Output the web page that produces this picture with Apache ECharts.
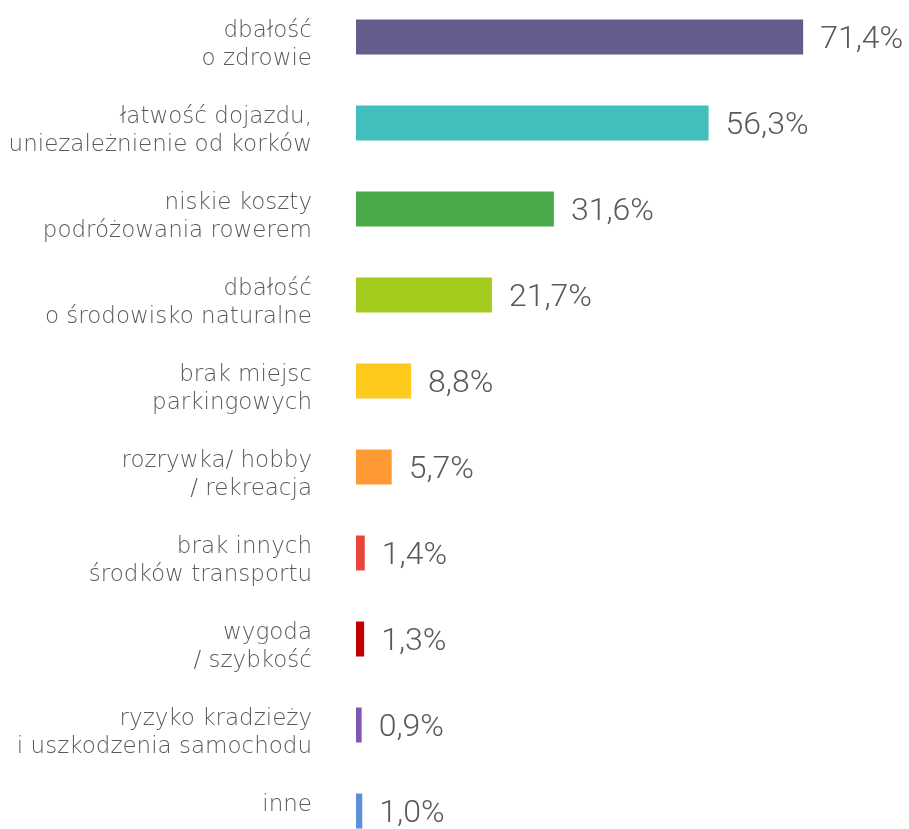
<!DOCTYPE html>
<html><head><meta charset="utf-8">
<script src="https://cdn.jsdelivr.net/npm/echarts@6/dist/echarts.min.js"></script>
<style>html,body{margin:0;padding:0;background:#fff;overflow:hidden;width:909px;height:829px}#c{position:absolute;left:0;top:-6px;width:909px;height:860px}</style>
</head><body><div id="c"></div>
<script>
const categories = [
  "dbałość\no zdrowie",
  "łatwość dojazdu,\nuniezależnienie od korków",
  "niskie koszty\npodróżowania rowerem",
  "dbałość\no środowisko naturalne",
  "brak miejsc\nparkingowych",
  "rozrywka/ hobby\n/ rekreacja",
  "brak innych\nśrodków transportu",
  "wygoda\n/ szybkość",
  "ryzyko kradzieży\ni uszkodzenia samochodu",
  "inne"
];
const values = [71.4, 56.3, 31.6, 21.7, 8.8, 5.7, 1.4, 1.3, 0.9, 1.0];
const colors = ["#635D8D", "#42BEBD", "#4AAA4A", "#A2CB1E", "#FFCA1E", "#FF9933", "#E8463B", "#C00000", "#7E57B5", "#5B8FDB"];

const chart = echarts.init(document.getElementById('c'), null, {renderer: 'canvas'});
chart.setOption({
  animation: false,
  grid: {left: 356, top: 0, bottom: 0, right: 52, containLabel: false, outerBoundsMode: 'none'},
  xAxis: {type: 'value', min: 0, max: 80, show: false},
  yAxis: {
    type: 'category', inverse: true, data: categories,
    axisLine: {show: false}, axisTick: {show: false}, splitLine: {show: false},
    axisLabel: {
      margin: 44, align: 'right', verticalAlign: 'middle',
      formatter: v => {
        const lines = v.split('\n');
        if (lines.length < 2) lines.push(' ');
        return '{s| }\n' + lines.map(l => '{t|' + l + '}').join('\n');
      },
      rich: {
        s: {fontSize: 8, lineHeight: 17},
        t: {fontFamily: 'DejaVu Sans', fontWeight: 200, fontSize: 23, color: '#595959', lineHeight: 28, align: 'right'}
      }
    }
  },
  series: [{
    type: 'bar', barWidth: 35,
    data: values.map((v, i) => ({value: v, itemStyle: {color: colors[i]}})),
    label: {
      show: true, position: 'right', distance: 17, offset: [0, 3],
      fontFamily: 'Roboto', fontWeight: 300, fontSize: 32, color: '#595959',
      formatter: p => p.value.toFixed(1).replace('.', ',') + '%'
    }
  }]
});
</script></body></html>
